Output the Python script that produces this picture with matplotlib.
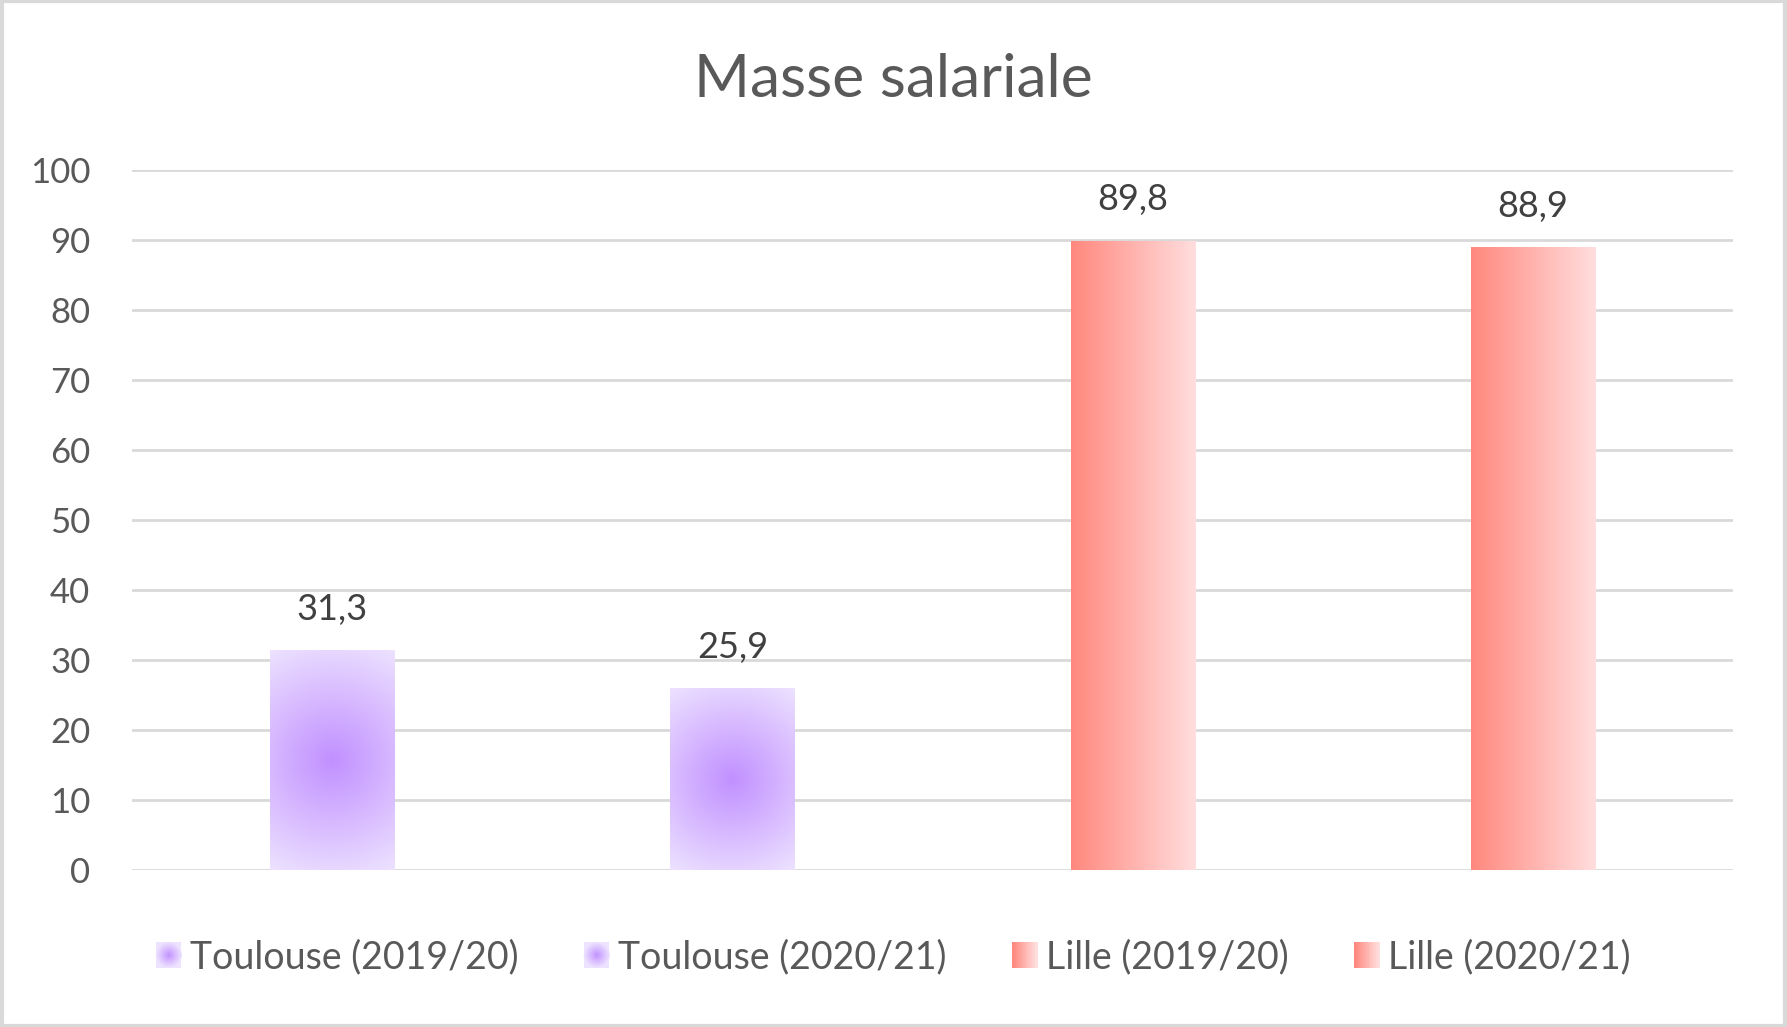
import matplotlib
matplotlib.use("Agg")
import matplotlib.pyplot as plt
import numpy as np
from matplotlib.patches import Rectangle, Circle
from matplotlib.legend_handler import HandlerBase

plt.rcParams["font.family"] = ["Lato", "DejaVu Sans"]

## Data
labels = ["Toulouse (2019/20)", "Toulouse (2020/21)", "Lille (2019/20)", "Lille (2020/21)"]
values = [31.3, 25.9, 89.8, 88.9]
kinds = ["radial", "radial", "linear", "linear"]
yticks = list(range(0, 101, 10))

TEXT = "#595959"
GRID = "#d9d9d9"
PURPLE_IN = np.array([193, 144, 255]) / 255
PURPLE_OUT = np.array([237, 226, 255]) / 255
RED_L = np.array([255, 136, 126]) / 255
RED_R = np.array([255, 222, 222]) / 255


def radial_img(w, h):
    yy, xx = np.mgrid[0:h, 0:w]
    dx = xx - (w - 1) / 2
    dy = yy - (h - 1) / 2
    r = np.sqrt(dx ** 2 + dy ** 2) / np.sqrt(((w - 1) / 2) ** 2 + ((h - 1) / 2) ** 2)
    r = np.clip(r, 0, 1)[..., None]
    return PURPLE_IN * (1 - r) + PURPLE_OUT * r


def linear_img(w, h):
    t = np.linspace(0, 1, w)[None, :, None] * np.ones((h, 1, 1))
    return RED_L * (1 - t) + RED_R * t


class GradHandler(HandlerBase):
    def __init__(self, kind):
        super().__init__()
        self.kind = kind

    def create_artists(self, legend, orig, xd, yd, width, height, fontsize, trans):
        size = height
        x0 = -xd
        y0 = -yd
        arts = []
        n = 14
        if self.kind == "linear":
            for i in range(n):
                t = i / (n - 1)
                c = RED_L * (1 - t) + RED_R * t
                arts.append(Rectangle((x0 + size * i / n, y0), size / n + 0.3, size,
                                      facecolor=c, edgecolor="none", transform=trans))
        else:
            arts.append(Rectangle((x0, y0), size, size, facecolor=PURPLE_OUT,
                                  edgecolor="none", transform=trans))
            cx, cy = x0 + size / 2, y0 + size / 2
            for i in range(n):
                t = 1 - i / n
                c = PURPLE_IN * (1 - t) + PURPLE_OUT * t
                arts.append(Circle((cx, cy), size / 2 * 1.05 * t, facecolor=c,
                                   edgecolor="none", transform=trans))
        return arts


fig = plt.figure(figsize=(17.87, 10.27), dpi=100)
ax = fig.add_axes([0.0739, 0.153, 0.896, 0.6815])

x = np.arange(len(values))
bars = ax.bar(x, values, width=0.31, color="none", edgecolor="none", zorder=3)
ax.set_xlim(-0.5, len(values) - 0.5)
ax.set_ylim(0, 100)

fig.canvas.draw()
for b, kind in zip(bars, kinds):
    bb = b.get_window_extent()
    w, h = max(int(bb.width), 2), max(int(bb.height), 2)
    img = radial_img(w, h) if kind == "radial" else linear_img(w, h)
    ax.imshow(img, extent=(b.get_x(), b.get_x() + b.get_width(), 0, b.get_height()),
              aspect="auto", origin="lower", zorder=3, interpolation="bilinear")

for xi, v in zip(x, values):
    ax.annotate(f"{v:.1f}".replace(".", ","), (xi, v), xytext=(0, 18),
                textcoords="offset points", ha="center", va="bottom",
                fontsize=26, color="#404040")

ax.set_yticks(yticks)
ax.set_xticks([])
ax.tick_params(axis="y", length=0, pad=30, labelsize=25, labelcolor=TEXT)
ax.grid(axis="y", color=GRID, linewidth=2, zorder=0)
for s in ax.spines.values():
    s.set_visible(False)
ax.set_xlim(-0.5, len(values) - 0.5)
ax.set_ylim(0, 100)

fig.text(0.5, 0.922, "Masse salariale", ha="center", va="center", fontsize=43.5, color=TEXT)

handles = [Rectangle((0, 0), 1, 1) for _ in labels]
leg = fig.legend(handles, labels, loc="center", bbox_to_anchor=(0.5, 0.068), ncol=4,
                 frameon=False, fontsize=27, labelcolor=TEXT, handlelength=0.65,
                 handleheight=0.65, handletextpad=0.25, columnspacing=1.75,
                 handler_map={h: GradHandler(k) for h, k in zip(handles, kinds)})

fig.patches.append(Rectangle((0.001, 0.001), 0.998, 0.998, transform=fig.transFigure,
                             fill=False, edgecolor=GRID, linewidth=3))

fig.savefig("out.png", dpi=100, facecolor="white")
